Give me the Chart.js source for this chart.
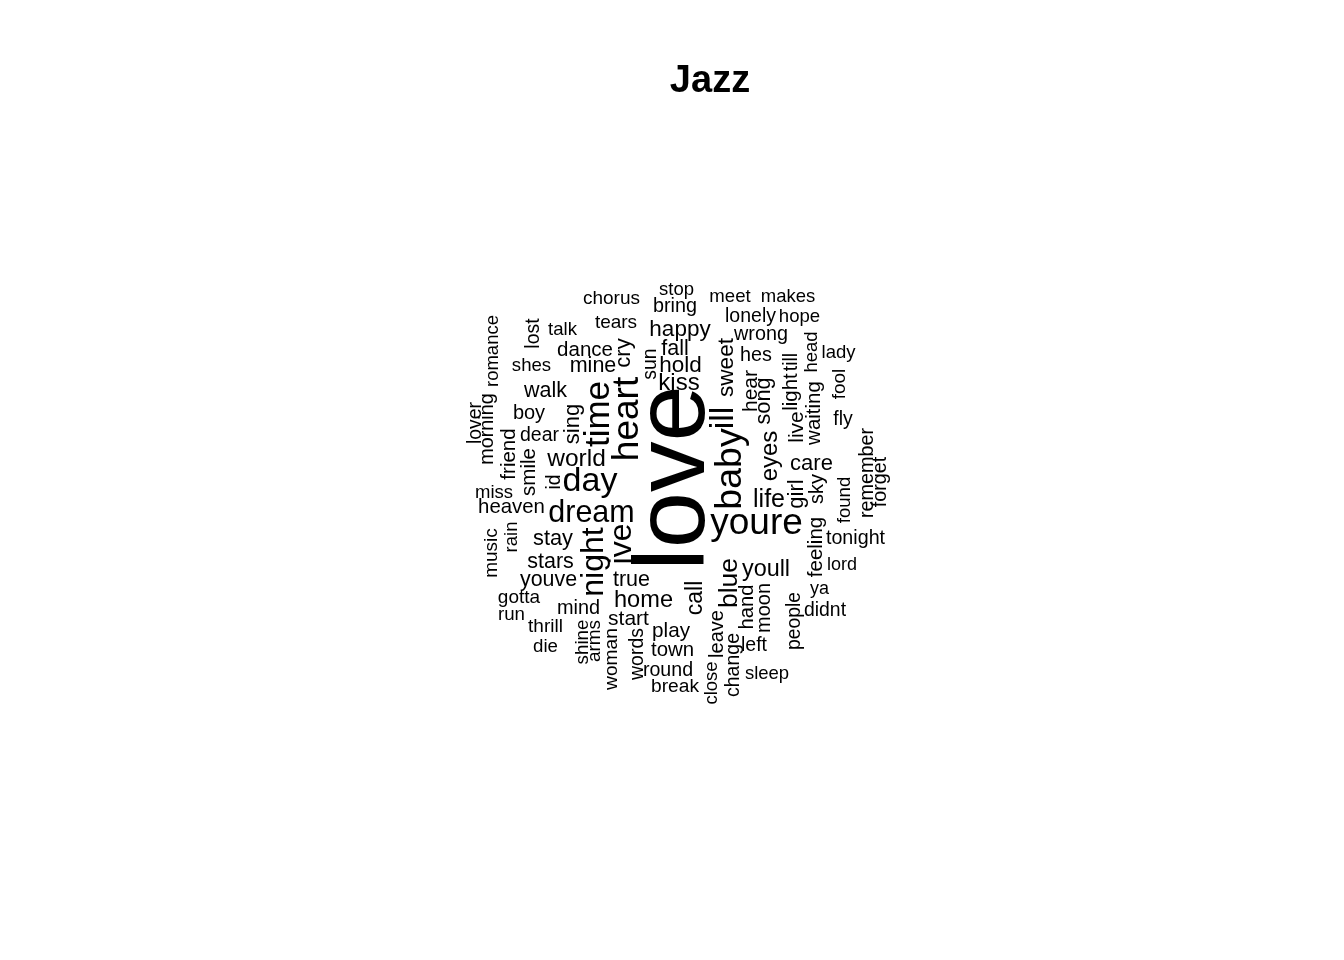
<!DOCTYPE html>
<html>
<head>
<meta charset="utf-8">
<script src="https://cdn.jsdelivr.net/npm/chart.js@4/dist/chart.umd.min.js"></script>
<style>
  html, body { margin: 0; padding: 0; background: #ffffff; }
  canvas { display: block; }
</style>
</head>
<body>
<canvas id="c" width="1344" height="960"></canvas>
<script>
// Word cloud "Jazz": words, layout positions (cloud layout space), weight (font size), orientation
const words = [
  'chorus','tears','talk','dance','mine','shes','walk','boy','stop','bring',
  'meet','makes','lonely','hope','happy','wrong','fall','hold','kiss','hes',
  'lady','fly','dear','world','day','miss','heaven','dream','stay','stars',
  'care','life','youre','tonight','youve','true','gotta','home','mind','run',
  'thrill','start','die','play','town','round','break','youll','lord','ya',
  'didnt','left','sleep',
  'romance','lost','cry','sun','sweet','hear','song','till','light','head',
  'waiting','fool','live','lover','morning','friend','smile','sing','time','heart',
  'id','rain','music','night','ive','love','ill','baby','eyes','remember',
  'forget','girl','sky','found','feeling','call','blue','hand','moon','people',
  'leave','change','close','shine','arms','woman','words'
];
const posX = [
  611.5,616,562.5,585,593,531.5,545.5,529,676.5,675,
  730,788,750.5,799.5,680,761,675,680.5,679,756,
  838.5,843,539.5,576.5,590,494,511.5,591.5,553,550.5,
  811.5,769,756.5,855.5,548.5,631.5,519,643.5,578.5,511.5,
  545.5,628.5,545.5,671,672.5,668,675,766,842,819.5,
  825,754,767,
  491.5,532.2,622.3,649.2,725.1,749.7,761.9,790.2,789.8,810.5,
  812.8,838.4,795.7,474.2,486.1,507.8,527.8,571.3,596.5,624.4,
  553.2,510.5,490.4,591,619,667,720.1,727.4,768.6,865.5,
  878.5,795.3,816,843.5,814.8,694,727.7,745.9,763,793.2,
  716,732.2,710.5,581.4,593.4,610.3,636.2
];
const posY = [
  297.4,321.1,328.5,348.8,364.2,364.2,389.5,411.3,288.5,305.1,
  295.2,295.2,314.9,315.2,328.1,333.1,346.8,363.8,381.6,354.1,
  351.2,418.2,434.2,457.4,478.1,491.5,505.9,511.3,537.4,560.5,
  461.8,498.3,520,537.1,578.2,578,596.4,598.4,607,613.5,
  625.4,617.7,645.5,629.8,648.9,668.6,685,567.5,563.7,587.7,
  609.2,644.2,672.5,
  351,333.5,353,364,367.5,391,401,362,392,352,
  413,384,427,423,429,454,472,424,414,419,
  482,537,553,562,544,478,418,469,456,473,
  482,494,489,500,547,598,583,607,608,621,
  634,665,683,642,641,659,654
];
const weight = [
  19,19,18.6,20.5,21.5,18.6,21.5,20,18.5,19.8,
  18.6,18.5,19.5,18.6,22.5,19.8,21.5,22.5,24,19.8,
  18.5,19.5,19.5,24.5,34,18.5,20.4,30.5,21.8,21.5,
  22,25,37,19.7,21.4,21.5,19,23.6,19.9,18.7,
  19,21,18.7,20.7,20.4,19.6,19.2,23.4,18,18,
  19.4,19.5,18.5,
  18.5,19.5,22,19.5,22.6,21,21.7,19.5,20.5,18.5,
  20.5,19,21,19.4,19.8,20.5,20.5,22,35,37,
  19.3,18.5,19,32,32,101,34,37.5,24,19.8,
  19.8,22,20,18.6,20.5,23,26.5,20.2,20,19.3,
  20,19.5,18.5,18.8,19,19.2,19.5
];
// 0 = horizontal, 1 = rotated (reads bottom to top)
const vertical = [
  0,0,0,0,0,0,0,0,0,0,
  0,0,0,0,0,0,0,0,0,0,
  0,0,0,0,0,0,0,0,0,0,
  0,0,0,0,0,0,0,0,0,0,
  0,0,0,0,0,0,0,0,0,0,
  0,0,0,
  1,1,1,1,1,1,1,1,1,1,
  1,1,1,1,1,1,1,1,1,1,
  1,1,1,1,1,1,1,1,1,1,
  1,1,1,1,1,1,1,1,1,1,
  1,1,1,1,1,1,1
];
const titleText = 'Jazz';

const FONT = "'Liberation Sans', Arial, Helvetica, sans-serif";

const wordPlugin = {
  id: 'wordLabels',
  afterDatasetsDraw(chart) {
    const ctx = chart.ctx;
    const meta = chart.getDatasetMeta(0);
    meta.data.forEach((pt, i) => {
      const raw = chart.data.datasets[0].data[i];
      ctx.save();
      ctx.translate(pt.x, pt.y);
      if (raw.v) ctx.rotate(-Math.PI / 2);
      ctx.font = raw.w + 'px ' + FONT;
      ctx.fillStyle = '#000000';
      ctx.textAlign = 'center';
      ctx.textBaseline = 'middle';
      ctx.fillText(raw.t, 0, raw.w * 0.09);
      ctx.restore();
    });
  }
};

new Chart(document.getElementById('c'), {
  type: 'scatter',
  data: {
    datasets: [{
      data: words.map((t, i) => ({ x: posX[i], y: posY[i], t: t, w: weight[i], v: vertical[i] })),
      pointRadius: 0,
      pointHoverRadius: 0,
      showLine: false
    }]
  },
  options: {
    responsive: false,
    animation: false,
    events: [],
    layout: { padding: { left: 76, right: 0, top: 0, bottom: 0 } },
    plugins: {
      legend: { display: false },
      tooltip: { enabled: false },
      title: {
        display: true,
        text: titleText,
        color: '#000000',
        font: { family: FONT, size: 38, weight: 'bold', lineHeight: 1.2 },
        padding: { top: 59, bottom: 0 }
      }
    },
    scales: {
      x: { type: 'linear', display: false, min: 76, max: 1344 },
      y: { type: 'linear', display: false, reverse: true, min: 104.6, max: 960 }
    }
  },
  plugins: [wordPlugin]
});
</script>
</body>
</html>
